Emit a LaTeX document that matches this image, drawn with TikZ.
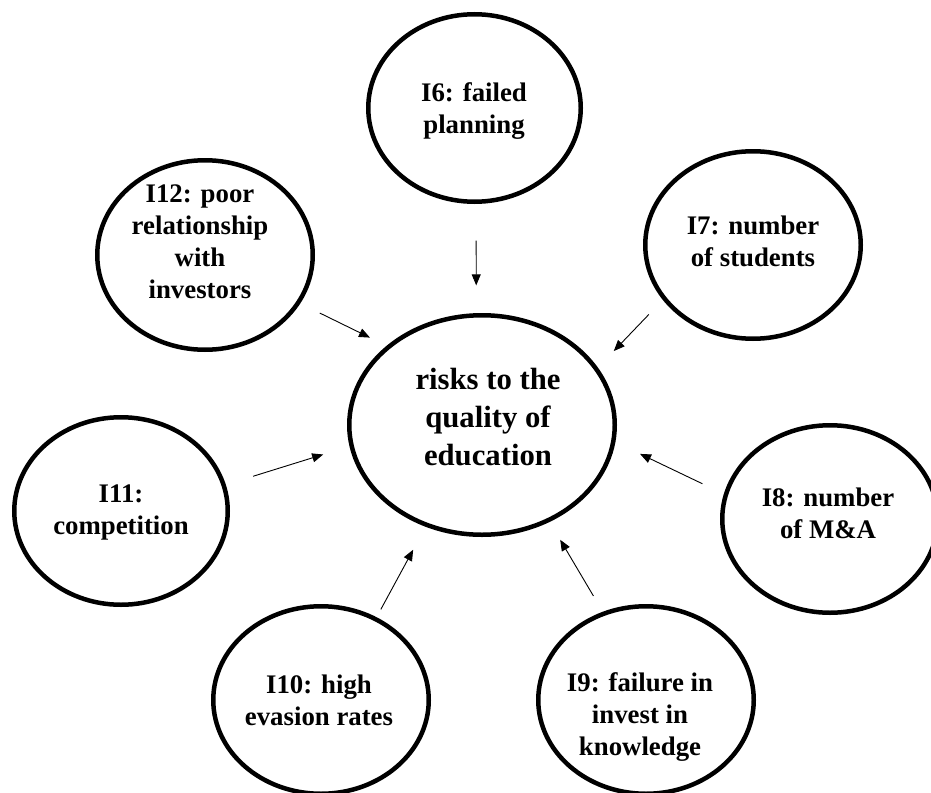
\documentclass[tikz,border=0pt]{standalone}
\usepackage{fontspec}
\setmainfont{Liberation Serif}
\usetikzlibrary{shapes.geometric,arrows.meta}
\begin{document}
\begin{tikzpicture}[x=1pt,y=-1pt,
  ell/.style={ellipse,draw=black,line width=4.5pt,inner sep=0pt,outer sep=0pt},
  sat/.style={ell,minimum width=215.5pt,minimum height=187.5pt},
  lab/.style={align=center,font=\bfseries\fontsize{26.8}{32}\selectfont,inner sep=0pt},
  biglab/.style={align=center,font=\bfseries\fontsize{30.7}{38}\selectfont,inner sep=0pt},
  arr/.style={-{Triangle[length=11pt,width=9pt]},line width=0.9pt}]
\useasboundingbox (0,0) rectangle (931,792);
% ellipses
\node[ell,minimum width=265.5pt,minimum height=219.5pt] (c) at (482,425) {};
\node[sat,minimum width=212.5pt] (i6) at (474.5,108) {};
\node[sat,minimum height=189.5pt] (i12) at (205,255) {};
\node[sat] (i7) at (753,245) {};
\node[sat,minimum width=213.5pt] (i11) at (121,511) {};
\node[sat] (i8) at (830,519) {};
\node[sat] (i10) at (321,700) {};
\node[sat] (i9) at (646,700) {};
% texts
\node[biglab] (tc) at (488,417) {risks to the\\quality of\\education};
\node[lab] (t6) at (474,111) {I6: failed\\planning};
\node[lab] (t12) at (200,242) {I12: poor\\relationship\\with\\investors};
\node[lab] (t7) at (753,241) {I7: number\\of students};
\node[lab] (t11) at (121,512) {I11:\\competition};
\node[lab] (t8) at (828,513.5) {I8: number\\of M\&A};
\node[lab] (t10) at (319,700) {I10: high\\evasion rates};
\node[lab] (t9) at (640,717) {I9: failure in\\invest in\\knowledge};
% arrows
\draw[arr, shorten <=39pt, shorten >=30pt] (i6.-89.1) -- (c.93.1);
\draw[arr, shorten <=24pt, shorten >=21pt] (i12.-27.8) -- (c.140.6);
\draw[arr, shorten <=22.5pt, shorten >=25.2pt] (i7.211.25) -- (c.26.66);
\draw[arr, shorten <=30.8pt, shorten >=29.8pt] (i11.14.5) -- (c.189.2);
\draw[arr, shorten <=26pt, shorten >=29.6pt] (i8.167.6) -- (c.-7.15);
\draw[arr, shorten <=11.1pt, shorten >=28.4pt] (i10.56.9) -- (c.241.9);
\draw[arr, shorten <=20.6pt, shorten >=23pt] (i9.116.2) -- (c.-55.3);
\end{tikzpicture}
\end{document}
